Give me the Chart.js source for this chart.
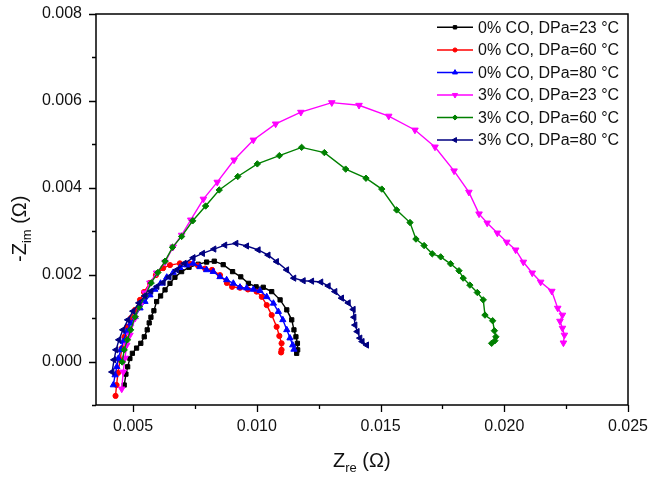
<!DOCTYPE html>
<html>
<head>
<meta charset="utf-8">
<script src="https://cdn.jsdelivr.net/npm/chart.js@4.4.1/dist/chart.umd.min.js"></script>
<style>
  html, body { margin: 0; padding: 0; background: #fff; }
  #wrap { width: 650px; height: 479px; }
</style>
</head>
<body>
<div id="wrap"><canvas id="nyquist" width="650" height="479"></canvas></div>
<script>
// Series labels and data (Z' / -Z'' in ohm)
const seriesNames = ["0% CO, DPa=23 °C", "0% CO, DPa=60 °C", "0% CO, DPa=80 °C",
                     "3% CO, DPa=23 °C", "3% CO, DPa=60 °C", "3% CO, DPa=80 °C"];

const co0_23_x = [0.00464,0.00471,0.00478,0.00487,0.00497,0.00514,0.00531,0.00545,0.00557,0.00565,0.00572,0.00584,0.00595,0.00611,0.00629,0.00649,0.00669,0.00696,0.00726,0.00763,0.00797,0.00828,0.00864,0.00902,0.00935,0.00966,0.00997,0.01026,0.01060,0.01094,0.01121,0.01141,0.01150,0.01158,0.01164,0.01165,0.01161];
const co0_23_y = [-0.00054,-0.00029,-0.00012,0.00007,0.00019,0.00031,0.00042,0.00057,0.00073,0.00089,0.00102,0.00117,0.00138,0.00151,0.00165,0.00180,0.00194,0.00207,0.00217,0.00224,0.00229,0.00231,0.00223,0.00207,0.00195,0.00180,0.00172,0.00171,0.00161,0.00142,0.00119,0.00096,0.00073,0.00057,0.00042,0.00027,0.00019];

const co0_60_x = [0.00429,0.00433,0.00439,0.00447,0.00455,0.00465,0.00477,0.00491,0.00508,0.00528,0.00544,0.00568,0.00592,0.00621,0.00649,0.00689,0.00730,0.00762,0.00791,0.00819,0.00851,0.00879,0.00900,0.00932,0.00964,0.00999,0.01020,0.01040,0.01060,0.01080,0.01091,0.01100,0.01100,0.01098];
const co0_60_y = [-0.00079,-0.00054,-0.00026,0.00004,0.00031,0.00057,0.00080,0.00100,0.00119,0.00142,0.00160,0.00181,0.00199,0.00215,0.00222,0.00226,0.00225,0.00221,0.00214,0.00211,0.00199,0.00181,0.00172,0.00170,0.00166,0.00161,0.00149,0.00130,0.00107,0.00080,0.00059,0.00042,0.00027,0.00021];

const co0_80_x = [0.00420,0.00427,0.00434,0.00440,0.00450,0.00460,0.00474,0.00490,0.00508,0.00528,0.00548,0.00568,0.00588,0.00611,0.00636,0.00662,0.00689,0.00717,0.00743,0.00770,0.00797,0.00824,0.00851,0.00878,0.00905,0.00932,0.00959,0.00986,0.01013,0.01040,0.01067,0.01087,0.01105,0.01121,0.01134,0.01145,0.01150];
const co0_80_y = [-0.00054,-0.00031,-0.00012,0.00007,0.00027,0.00046,0.00069,0.00088,0.00103,0.00123,0.00138,0.00153,0.00166,0.00180,0.00194,0.00205,0.00216,0.00222,0.00226,0.00218,0.00211,0.00207,0.00195,0.00188,0.00180,0.00171,0.00169,0.00166,0.00163,0.00149,0.00134,0.00115,0.00096,0.00073,0.00054,0.00038,0.00028];

const co3_23_x = [0.00454,0.00460,0.00467,0.00474,0.00487,0.00508,0.00528,0.00548,0.00568,0.00595,0.00629,0.00662,0.00696,0.00733,0.00784,0.00840,0.00908,0.00986,0.01076,0.01178,0.01303,0.01413,0.01533,0.01639,0.01720,0.01797,0.01857,0.01898,0.01931,0.01972,0.02010,0.02046,0.02077,0.02113,0.02147,0.02192,0.02216,0.02235,0.02225,0.02235,0.02243,0.02239];
const co3_23_y = [-0.00063,-0.00024,0.00008,0.00038,0.00061,0.00100,0.00130,0.00158,0.00181,0.00204,0.00229,0.00264,0.00291,0.00326,0.00374,0.00413,0.00464,0.00510,0.00547,0.00574,0.00596,0.00590,0.00565,0.00533,0.00494,0.00439,0.00390,0.00340,0.00319,0.00296,0.00275,0.00257,0.00229,0.00204,0.00183,0.00162,0.00123,0.00107,0.00093,0.00077,0.00061,0.00043];

const co3_60_x = [0.00456,0.00464,0.00477,0.00490,0.00508,0.00525,0.00548,0.00573,0.00600,0.00629,0.00659,0.00696,0.00741,0.00793,0.00848,0.00923,0.01002,0.01091,0.01181,0.01273,0.01359,0.01441,0.01505,0.01565,0.01619,0.01643,0.01676,0.01709,0.01743,0.01783,0.01817,0.01834,0.01861,0.01891,0.01915,0.01922,0.01953,0.01960,0.01966,0.01962,0.01949];
const co3_60_y = [-0.00001,0.00027,0.00050,0.00073,0.00103,0.00126,0.00151,0.00181,0.00205,0.00231,0.00263,0.00288,0.00324,0.00358,0.00395,0.00426,0.00455,0.00474,0.00493,0.00481,0.00443,0.00422,0.00397,0.00349,0.00320,0.00282,0.00267,0.00248,0.00241,0.00225,0.00209,0.00192,0.00176,0.00159,0.00142,0.00107,0.00094,0.00071,0.00057,0.00048,0.00042];

const co3_80_x = [0.00415,0.00423,0.00431,0.00443,0.00459,0.00479,0.00500,0.00524,0.00548,0.00572,0.00597,0.00622,0.00646,0.00676,0.00707,0.00743,0.00781,0.00827,0.00871,0.00916,0.00959,0.01006,0.01046,0.01080,0.01121,0.01150,0.01188,0.01222,0.01259,0.01289,0.01316,0.01343,0.01370,0.01390,0.01393,0.01397,0.01406,0.01417,0.01426,0.01444];
const co3_80_y = [-0.00024,0.00004,0.00027,0.00050,0.00073,0.00096,0.00116,0.00135,0.00151,0.00162,0.00173,0.00182,0.00195,0.00211,0.00226,0.00239,0.00249,0.00259,0.00268,0.00272,0.00266,0.00257,0.00245,0.00230,0.00211,0.00192,0.00186,0.00185,0.00183,0.00174,0.00161,0.00146,0.00135,0.00120,0.00102,0.00084,0.00069,0.00054,0.00046,0.00038];

// Axis limits and tick steps
const xMin = 0.0035, xMax = 0.025, xStep = 0.0025, xLabelStep = 0.005;
const yMin = -0.001, yMax = 0.008, yStep = 0.001, yLabelStep = 0.002;

const allX = [co0_23_x, co0_60_x, co0_80_x, co3_23_x, co3_60_x, co3_80_x];
const allY = [co0_23_y, co0_60_y, co0_80_y, co3_23_y, co3_60_y, co3_80_y];

// Marker styles, same order as the series
const colors = ["#000000", "#ff0000", "#0000ff", "#ff00ff", "#008000", "#000080"];
const markers = ["rect", "circle", "triangle", "triangle", "rectRot", "triangle"];
const turns = [0, 0, 0, 180, 0, 270];
const sizes = [3, 2.6, 3.6, 3.8, 3.2, 3.6];

const FONT = "'Liberation Sans', Arial, sans-serif";

function toPoints(xs, ys) {
  return xs.map((x, i) => ({ x: x, y: ys[i] }));
}

function isMultiple(v, step) {
  const r = v / step;
  return Math.abs(r - Math.round(r)) < 1e-6;
}

const datasets = seriesNames.map((name, i) => ({
  label: name,
  data: toPoints(allX[i], allY[i]),
  showLine: true,
  borderColor: colors[i],
  backgroundColor: colors[i],
  borderWidth: 1.4,
  pointStyle: markers[i],
  rotation: turns[i],
  pointRadius: sizes[i],
  pointBorderWidth: 1,
  tension: 0,
  order: 6 - i
}));

// frame, tick marks, axis titles and the legend
const decorations = {
  id: "decorations",
  afterDraw(chart) {
    const ctx = chart.ctx;
    const a = chart.chartArea;
    const xs = chart.scales.x, ys = chart.scales.y;
    ctx.save();
    ctx.strokeStyle = "#000";
    ctx.lineWidth = 1.5;
    ctx.strokeRect(a.left, a.top, a.right - a.left, a.bottom - a.top);

    ctx.lineWidth = 1.3;
    ctx.beginPath();
    xs.ticks.forEach(t => {
      const px = Math.round(xs.getPixelForValue(t.value)) + 0.5;
      const len = isMultiple(t.value, xLabelStep) ? 7 : 4;
      ctx.moveTo(px, a.bottom);
      ctx.lineTo(px, a.bottom + len);
    });
    ys.ticks.forEach(t => {
      const py = Math.round(ys.getPixelForValue(t.value)) + 0.5;
      const len = isMultiple(t.value, yLabelStep) ? 7 : 4;
      ctx.moveTo(a.left, py);
      ctx.lineTo(a.left - len, py);
    });
    ctx.stroke();

    // axis titles with subscripts
    ctx.fillStyle = "#111";
    ctx.textBaseline = "alphabetic";
    ctx.textAlign = "left";
    const big = "20px " + FONT, small = "13px " + FONT;
    function titleParts(x0, y0, main, sub, tail) {
      let x = x0;
      ctx.font = big; ctx.fillText(main, x, y0); x += ctx.measureText(main).width;
      ctx.font = small; ctx.fillText(sub, x, y0 + 5); x += ctx.measureText(sub).width;
      ctx.font = big; ctx.fillText(tail, x, y0);
    }
    titleParts(333, 467, "Z", "re", " (\u03A9)");
    ctx.save();
    ctx.translate(26, 262);
    ctx.rotate(-Math.PI / 2);
    titleParts(0, 0, "-Z", "im", " (\u03A9)");
    ctx.restore();

    // legend
    const rowY = [27.3, 50, 72.5, 95, 117.5, 140];
    ctx.font = "16px " + FONT;
    ctx.textBaseline = "middle";
    seriesNames.forEach((name, i) => {
      const y = rowY[i];
      ctx.strokeStyle = colors[i];
      ctx.fillStyle = colors[i];
      ctx.lineWidth = 1.4;
      ctx.beginPath();
      ctx.moveTo(437, y);
      ctx.lineTo(473, y);
      ctx.stroke();
      ctx.lineWidth = 1;
      Chart.helpers.drawPoint(ctx, { pointStyle: markers[i], rotation: turns[i], radius: sizes[i] * 0.8, borderWidth: 1 }, 455, y);
      ctx.fillStyle = "#111";
      ctx.fillText(name, 478, y + 1);
    });
    ctx.restore();
  }
};

new Chart(document.getElementById("nyquist"), {
  type: "scatter",
  data: { datasets: datasets },
  options: {
    responsive: false,
    animation: false,
    devicePixelRatio: 1,
    layout: { padding: { left: 0, right: 22, top: 14, bottom: 0 } },
    plugins: { legend: { display: false }, tooltip: { enabled: false } },
    scales: {
      x: {
        type: "linear",
        min: xMin, max: xMax,
        grid: { display: false, drawTicks: false },
        border: { display: false },
        ticks: {
          stepSize: xStep,
          includeBounds: false,
          maxRotation: 0,
          autoSkip: false,
          padding: 12,
          color: "#111",
          font: { family: FONT, size: 16 },
          callback: v => isMultiple(v, xLabelStep) ? v.toFixed(3) : ""
        },
        afterFit(scale) {
          scale.height = 74;
          scale.paddingLeft = 0;
          scale.paddingRight = 0;
        }
      },
      y: {
        type: "linear",
        min: yMin, max: yMax,
        grid: { display: false, drawTicks: false },
        border: { display: false },
        ticks: {
          stepSize: yStep,
          autoSkip: false,
          padding: 14,
          color: "#111",
          font: { family: FONT, size: 16 },
          callback: v => isMultiple(v, yLabelStep) ? v.toFixed(3) : ""
        },
        afterFit(scale) {
          scale.width = 96;
          scale.paddingTop = 0;
          scale.paddingBottom = 0;
        }
      }
    }
  },
  plugins: [decorations]
});
</script>
</body>
</html>
